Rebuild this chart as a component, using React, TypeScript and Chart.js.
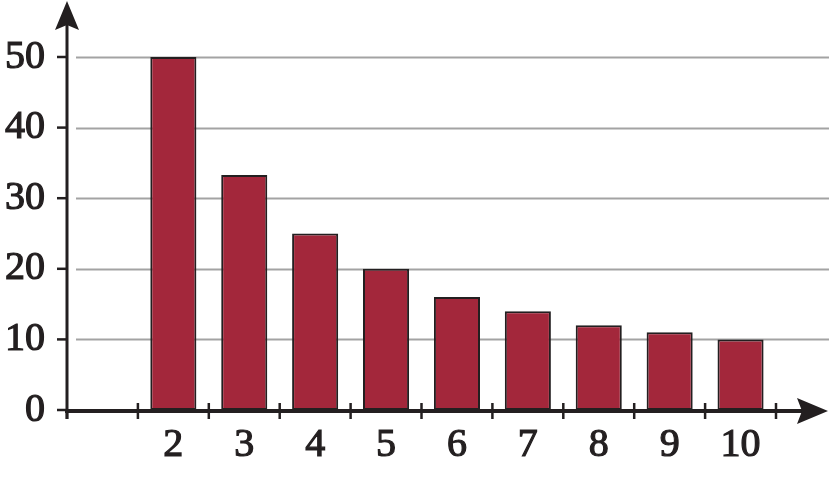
import { useEffect, useRef } from "react";
import { Chart, registerables } from "chart.js";
import type { Plugin } from "chart.js";

Chart.register(...registerables);

// data (first slot is an empty category)
const categories = ["", "2", "3", "4", "5", "6", "7", "8", "9", "10"];
const values: (number | null)[] = [null, 50, 33.3, 25, 20, 16, 14, 12, 11, 10];
const yTicks = [0, 10, 20, 30, 40, 50];

const INK = "#231f20";
const FONT = "'Liberation Serif', serif";

// hand drawn axes: gridlines behind the bars, arrows + tick marks on top
const axesPlugin: Plugin<"bar"> = {
  id: "arrowAxes",
  beforeDatasetsDraw(chart) {
    const { ctx, scales } = chart;
    const y = scales.y;
    const x0 = scales.x.left;
    ctx.save();
    ctx.strokeStyle = "#a3a3a3";
    ctx.lineWidth = 2;
    yTicks.forEach((v) => {
      if (v === 0) return;
      const py = Math.round(y.getPixelForValue(v)) + 0.5;
      ctx.beginPath();
      ctx.moveTo(x0 + 9, py);
      ctx.lineTo(chart.width, py);
      ctx.stroke();
    });
    ctx.restore();
  },
  afterDatasetsDraw(chart) {
    const { ctx, scales } = chart;
    const x = scales.x;
    const y = scales.y;
    const ax = x.left;
    const ay = y.getPixelForValue(0) + 1;
    ctx.save();
    ctx.strokeStyle = INK;
    ctx.fillStyle = INK;

    // y axis
    ctx.lineWidth = 3;
    ctx.beginPath();
    ctx.moveTo(ax, ay + 8);
    ctx.lineTo(ax, 24);
    ctx.stroke();
    ctx.beginPath();
    ctx.moveTo(ax, 1);
    ctx.lineTo(ax + 12, 30);
    ctx.lineTo(ax, 25);
    ctx.lineTo(ax - 12, 30);
    ctx.closePath();
    ctx.fill();

    // y tick marks
    ctx.lineWidth = 2.5;
    yTicks.forEach((v) => {
      const py = y.getPixelForValue(v);
      ctx.beginPath();
      ctx.moveTo(ax - 10, py);
      ctx.lineTo(ax, py);
      ctx.stroke();
    });

    // x axis
    ctx.lineWidth = 4;
    ctx.beginPath();
    ctx.moveTo(ax - 2, ay);
    ctx.lineTo(chart.width - 26, ay);
    ctx.stroke();
    const tip = chart.width - 1;
    ctx.beginPath();
    ctx.moveTo(tip, ay);
    ctx.lineTo(tip - 31, ay - 13);
    ctx.lineTo(tip - 26, ay);
    ctx.lineTo(tip - 31, ay + 13);
    ctx.closePath();
    ctx.fill();

    // x tick marks at slot boundaries
    const slot = (x.right - x.left) / categories.length;
    ctx.lineWidth = 2.5;
    for (let i = 0; i <= categories.length; i++) {
      const px = x.left + i * slot;
      ctx.beginPath();
      ctx.moveTo(px, i === 0 ? ay : ay - 8);
      ctx.lineTo(px, ay + 8);
      ctx.stroke();
    }
    ctx.restore();
  },
};

export default function App() {
  const chartRef = useRef<HTMLCanvasElement>(null);
  const chartInstance = useRef<Chart | null>(null);

  useEffect(() => {
    if (!chartRef.current) return;
    if (chartInstance.current) chartInstance.current.destroy();

    const tickFont = { family: FONT, size: 40 };

    chartInstance.current = new Chart(chartRef.current, {
      type: "bar",
      data: {
        labels: categories,
        datasets: [
          {
            data: values,
            backgroundColor: "#a3273b",
            borderColor: INK,
            borderWidth: 2,
            borderSkipped: false,
            categoryPercentage: 1,
            barPercentage: 0.65,
          },
        ],
      },
      options: {
        animation: false,
        responsive: true,
        maintainAspectRatio: false,
        layout: { padding: { top: 57, right: 53, left: 0, bottom: 0 } },
        plugins: {
          legend: { display: false },
          tooltip: { enabled: false },
        },
        scales: {
          x: {
            grid: { display: false, drawTicks: false },
            border: { display: false },
            ticks: {
              color: INK,
              font: tickFont,
              padding: 11,
              textStrokeColor: INK,
              textStrokeWidth: 1.2,
            },
            afterFit: (scale) => {
              scale.height = 67;
            },
          },
          y: {
            min: 0,
            max: 50,
            grid: { display: false, drawTicks: false },
            border: { display: false },
            ticks: {
              stepSize: 10,
              color: INK,
              font: tickFont,
              padding: 22,
              textStrokeColor: INK,
              textStrokeWidth: 1.2,
            },
            afterFit: (scale) => {
              scale.width = 67;
            },
          },
        },
      },
      plugins: [axesPlugin],
    });

    return () => {
      chartInstance.current?.destroy();
      chartInstance.current = null;
    };
  }, []);

  return (
    <div style={{ position: "fixed", left: 0, top: 0, width: 829, height: 477, background: "#fff" }}>
      <canvas ref={chartRef} />
    </div>
  );
}
